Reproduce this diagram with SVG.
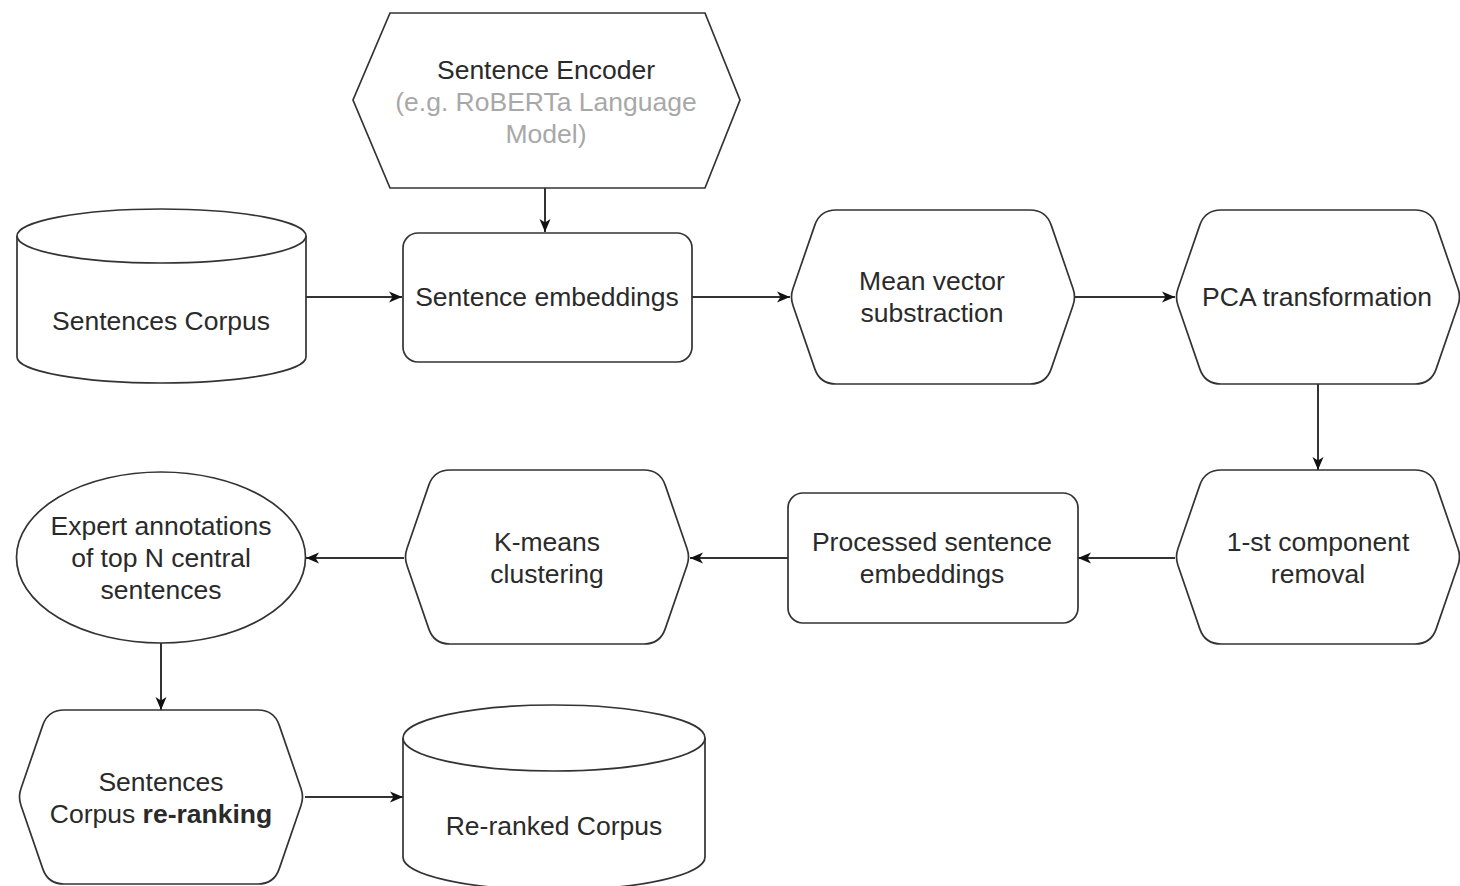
<svg xmlns="http://www.w3.org/2000/svg" xmlns:xlink="http://www.w3.org/1999/xlink" width="1460" height="886" viewBox="0 0 1460 886">
<style>
.s{fill:#ffffff;stroke:#333333;stroke-width:1.7}
.t{font-family:"Liberation Sans",Arial,Helvetica,sans-serif;font-size:26.5px;fill:#2a2a2a;text-anchor:middle}
.g{fill:#a8a8a8}
.e{fill:none;stroke:#333333;stroke-width:2;marker-end:url(#arr)}
</style>
<defs>
<marker id="arr" markerWidth="14" markerHeight="12" refX="13" refY="6" orient="auto" markerUnits="userSpaceOnUse">
<path d="M0,0.5 L13,6 L0,11.5 L3.5,6 Z" fill="#111111"/>
</marker>
<path id="hex" d="M46,0 H240 Q256,0 261.2,15.1 L283,78.5 Q286,87 283,95.5 L261.2,158.9 Q256,174 240,174 H46 Q30,174 24.8,158.9 L3,95.5 Q0,87 3,78.5 L24.8,15.1 Q30,0 46,0 Z"/>
</defs>
<rect width="1460" height="886" fill="#ffffff"/>
<g id="connectors">
<line class="e" x1="545" y1="188" x2="545" y2="232"/>
<line class="e" x1="306" y1="297" x2="402" y2="297"/>
<line class="e" x1="691" y1="297" x2="790" y2="297"/>
<line class="e" x1="1075" y1="297" x2="1175" y2="297"/>
<line class="e" x1="1318" y1="384" x2="1318" y2="470"/>
<line class="e" x1="1175" y1="558" x2="1078" y2="558"/>
<line class="e" x1="788" y1="558" x2="690" y2="558"/>
<line class="e" x1="404" y1="558" x2="306" y2="558"/>
<line class="e" x1="161" y1="643" x2="161" y2="710"/>
<line class="e" x1="305" y1="797" x2="403" y2="797"/>
</g>
<g id="encoder">
<path class="s" d="M390,13 H705 L740,100 L705,188 H390 L353,100 Z"/>
<text class="t" x="546" y="79">Sentence Encoder</text>
<text class="t g" x="546" y="111">(e.g. RoBERTa Language</text>
<text class="t g" x="546" y="143">Model)</text>
</g>
<g id="corpus">
<path class="s" d="M17,236 A144.5,27 0 0 1 306,236 V357 A144.5,26 0 0 1 17,357 Z"/>
<path class="s" fill="none" d="M17,236 A144.5,27 0 0 0 306,236"/>
<text class="t" x="161" y="330">Sentences Corpus</text>
</g>
<g id="embeddings">
<rect class="s" x="403" y="233" width="289" height="129" rx="15"/>
<text class="t" x="547" y="306">Sentence embeddings</text>
</g>
<g id="mean">
<use href="#hex" class="s" transform="translate(790,210)"/>
<text class="t" x="932" y="290">Mean vector</text>
<text class="t" x="932" y="322">substraction</text>
</g>
<g id="pca">
<use href="#hex" class="s" transform="translate(1175,210)"/>
<text class="t" x="1317" y="306">PCA transformation</text>
</g>
<g id="removal">
<use href="#hex" class="s" transform="translate(1175,470)"/>
<text class="t" x="1318" y="551">1-st component</text>
<text class="t" x="1318" y="583">removal</text>
</g>
<g id="processed">
<rect class="s" x="788" y="493" width="290" height="130" rx="15"/>
<text class="t" x="932" y="551">Processed sentence</text>
<text class="t" x="932" y="583">embeddings</text>
</g>
<g id="kmeans">
<use href="#hex" class="s" transform="translate(404,470)"/>
<text class="t" x="547" y="551">K-means</text>
<text class="t" x="547" y="583">clustering</text>
</g>
<g id="expert">
<ellipse class="s" cx="161" cy="557.5" rx="144.5" ry="85.5"/>
<text class="t" x="161" y="535">Expert annotations</text>
<text class="t" x="161" y="567">of top N central</text>
<text class="t" x="161" y="599">sentences</text>
</g>
<g id="reranking">
<use href="#hex" class="s" transform="translate(18,710)"/>
<text class="t" x="161" y="791">Sentences</text>
<text class="t" x="161" y="823">Corpus <tspan font-weight="bold">re-ranking</tspan></text>
</g>
<g id="reranked">
<path class="s" d="M403,738 A151,33 0 0 1 705,738 V857 A151,33 0 0 1 403,857 Z"/>
<path class="s" fill="none" d="M403,738 A151,33 0 0 0 705,738"/>
<text class="t" x="554" y="835">Re-ranked Corpus</text>
</g>
</svg>
